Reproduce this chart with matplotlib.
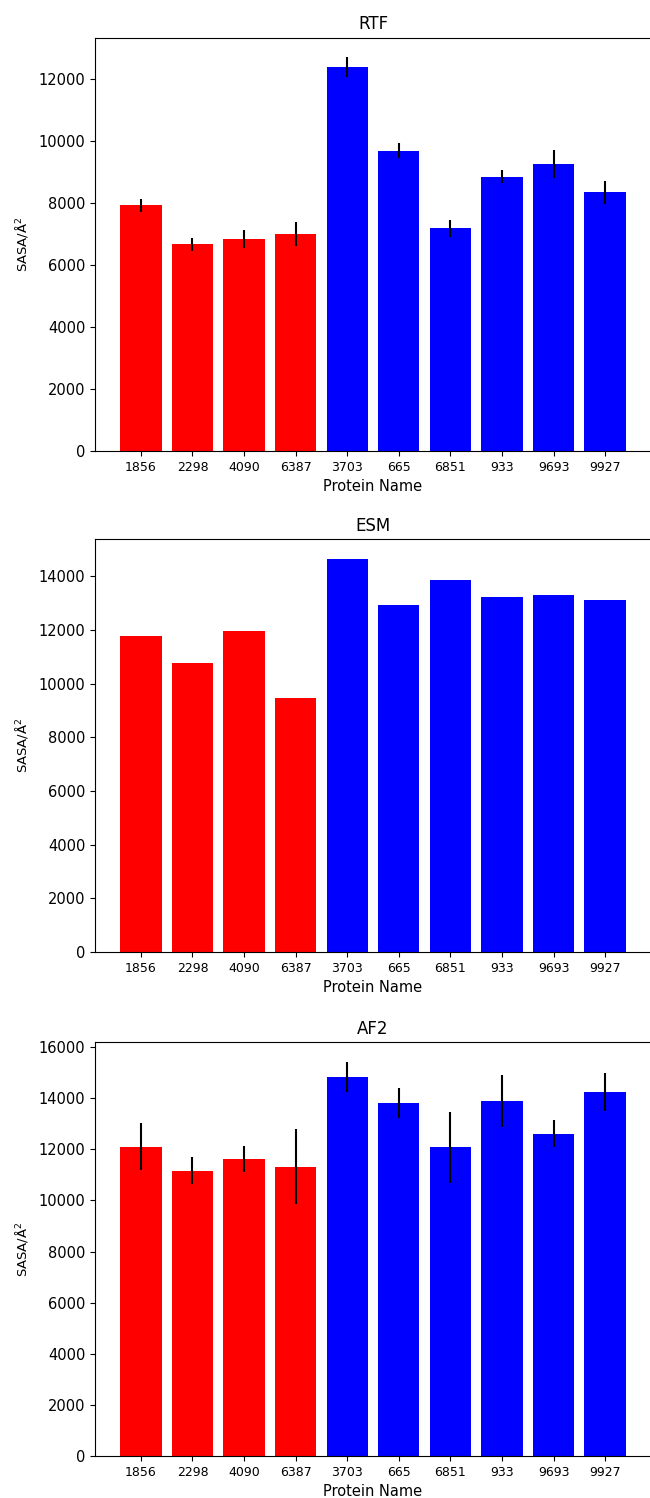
import matplotlib
matplotlib.use('Agg')
import matplotlib.pyplot as plt
import numpy as np

proteins = ['1856', '2298', '4090', '6387', '3703', '665', '6851', '933', '9693', '9927']
colors = ['red'] * 4 + ['blue'] * 6

rtf_mean = [7930, 6670, 6850, 7020, 12400, 9700, 7190, 8860, 9270, 8360]
rtf_err = [200, 220, 300, 390, 320, 240, 270, 210, 450, 370]

esm_mean = [11770, 10790, 11970, 9460, 14660, 12950, 13850, 13230, 13310, 13110]

af2_mean = [12110, 11170, 11620, 11320, 14830, 13820, 12080, 13890, 12610, 14230]
af2_err = [930, 520, 500, 1470, 600, 590, 1380, 1010, 520, 740]

W, H = 650, 1498
fig = plt.figure(figsize=(W / 100, H / 100), dpi=100)

# panel boxes in pixels: (top, bottom)
panels = [
    ('RTF', rtf_mean, rtf_err, 37.5, 451),
    ('ESM', esm_mean, None, 539, 952),
    ('AF2', af2_mean, af2_err, 1042, 1456),
]
left, right = 95, 651

for title, mean, err, top, bottom in panels:
    ax = fig.add_axes([left / W, 1 - bottom / H, (right - left) / W, (bottom - top) / H])
    x = np.arange(len(proteins))
    ax.bar(x, mean, yerr=err, color=colors, width=0.8, ecolor='black',
           error_kw={'elinewidth': 1.5})
    ax.set_xticks(x)
    ax.set_xticklabels(proteins, fontsize=9)
    ax.tick_params(axis='y', labelsize=10.5)
    ax.set_xlabel('Protein Name', fontsize=10.5, labelpad=4)
    ax.set_ylabel('SASA/Å$^2$', fontsize=9.5, labelpad=6)
    ax.set_title(title, fontsize=12)

plt.savefig('out.png', dpi=100)
